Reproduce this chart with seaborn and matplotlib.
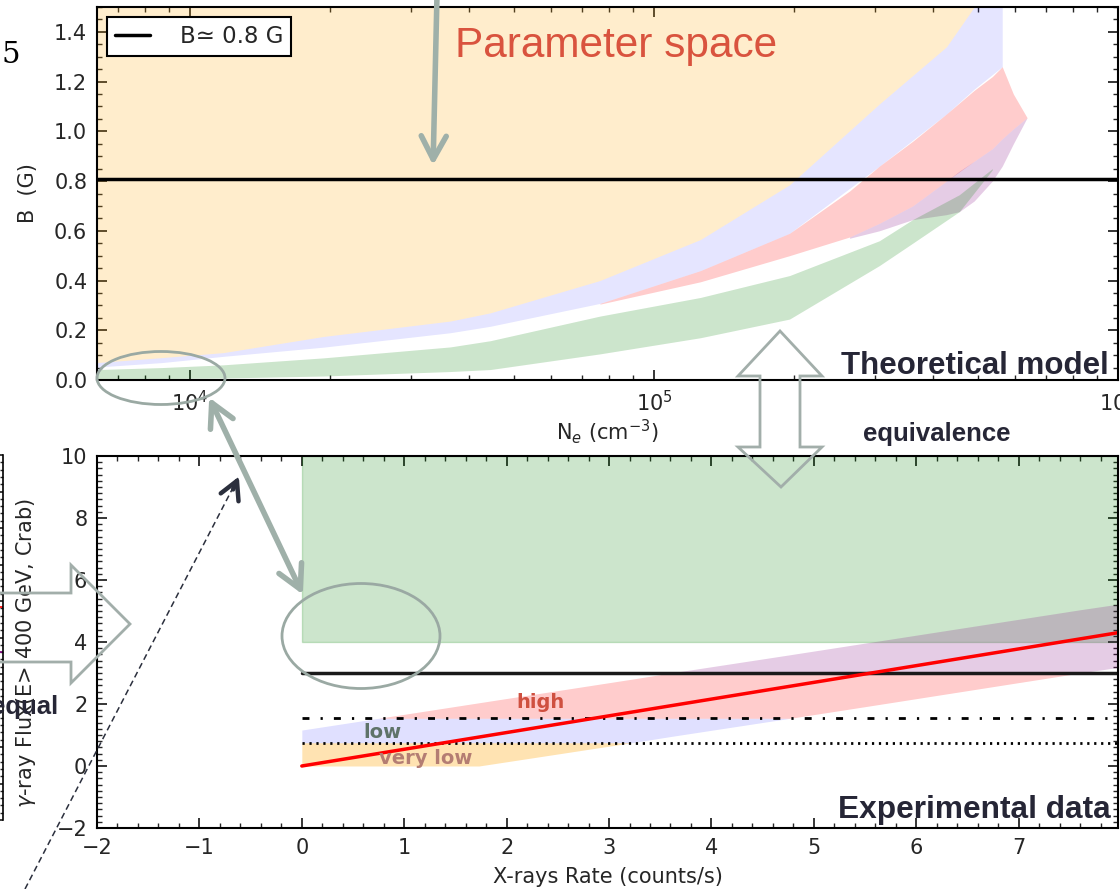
import numpy as np
import matplotlib
matplotlib.use("Agg")
import matplotlib.pyplot as plt
import seaborn as sns
from matplotlib.patches import Ellipse, Polygon, FancyArrowPatch, ArrowStyle
from matplotlib.lines import Line2D
from matplotlib.ticker import MultipleLocator, NullFormatter, LogLocator

# ---------------- data: top panel (theoretical model) ----------------
ne_vlow = [6.3e3, 8.7e3, 1.18e4, 1.94e4, 3.64e4, 4.44e4, 7.65e4, 1.26e5, 1.96e5, 3.06e5, 4.27e5, 4.90e5]
b_vlow_lo = [0.070, 0.090, 0.110, 0.175, 0.237, 0.270, 0.400, 0.565, 0.785, 1.110, 1.340, 1.500]

ne_low = [6.3e3, 8.7e3, 1.18e4, 1.94e4, 3.64e4, 4.44e4, 7.65e4, 1.26e5, 1.96e5, 3.06e5, 4.27e5, 4.90e5, 5.63e5]
b_low_lo = [0.052, 0.070, 0.095, 0.132, 0.190, 0.216, 0.308, 0.440, 0.590, 0.860, 1.070, 1.170, 1.260]
b_low_hi = [0.070, 0.090, 0.110, 0.175, 0.237, 0.270, 0.400, 0.565, 0.785, 1.110, 1.340, 1.500, 1.700]

ne_high = [7.65e4, 1.26e5, 1.96e5, 2.64e5, 3.06e5, 3.61e5, 4.27e5, 4.90e5, 5.36e5, 5.63e5, 5.95e5, 6.37e5]
b_high_lo = [0.305, 0.395, 0.500, 0.575, 0.630, 0.700, 0.800, 0.880, 0.930, 0.970, 1.010, 1.055]
b_high_hi = [0.308, 0.440, 0.590, 0.760, 0.860, 0.960, 1.070, 1.165, 1.220, 1.260, 1.150, 1.055]

ne_vhigh = [2.64e5, 3.06e5, 3.61e5, 4.27e5, 4.55e5, 4.90e5, 5.36e5, 5.63e5, 5.95e5, 6.37e5]
b_vhigh_lo = [0.570, 0.600, 0.645, 0.665, 0.677, 0.720, 0.800, 0.860, 0.950, 1.055]
b_vhigh_hi = [0.575, 0.630, 0.700, 0.800, 0.840, 0.880, 0.930, 0.970, 1.010, 1.055]

ne_green = [6.3e3, 8.7e3, 1.18e4, 1.94e4, 3.64e4, 4.44e4, 7.65e4, 1.26e5, 1.96e5, 3.06e5, 3.61e5, 4.55e5, 5.36e5]
b_green_lo = [0.003, 0.006, 0.008, 0.016, 0.034, 0.042, 0.105, 0.170, 0.245, 0.460, 0.550, 0.677, 0.845]
b_green_hi = [0.042, 0.050, 0.061, 0.089, 0.133, 0.158, 0.257, 0.332, 0.420, 0.560, 0.645, 0.745, 0.850]

ne_span = [6.3e3, 1.0e6]
b_const = 0.81

# ---------------- data: bottom panel (experimental data) ----------------
band_x = [0.0, 0.75, 1.73, 3.22, 3.60, 4.77, 5.57, 7.60, 7.97]
band_lo = [-0.89, -0.51, 0.00, 0.75, 0.95, 1.54, 1.95, 3.00, 3.18]
band_hi = [1.16, 1.54, 2.04, 2.80, 3.00, 3.59, 4.00, 5.04, 5.22]
thr_vlow, thr_low, thr_high = 0.75, 1.54, 3.00
green_box_lo, green_box_hi = 4.0, 10.0
line_x = [0.0, 7.97]
red_fit_y = [0.0, 4.30]

# ---------------- style ----------------
sns.set_theme(style="ticks", rc={
    "xtick.direction": "in", "ytick.direction": "in",
    "xtick.top": True, "ytick.right": True,
    "axes.linewidth": 1.5, "axes.edgecolor": "black",
})
plt.rcParams["font.family"] = ["DejaVu Sans"]

W, H = 1120, 889
fig = plt.figure(figsize=(W / 100, H / 100), dpi=100)


def P(x, y):
    return (x / W, 1 - y / H)


ax1 = fig.add_axes([97 / W, 1 - 380 / H, (1118 - 97) / W, (380 - 7) / H])
ax2 = fig.add_axes([97 / W, 1 - 828 / H, (1118 - 97) / W, (828 - 456) / H])

# ---- top panel ----
ax1.set_xscale("log")
ax1.fill_between(ne_vlow, b_vlow_lo, 2.0, color="orange", alpha=0.2, lw=0)
ax1.fill_between(ne_low, b_low_lo, b_low_hi, color="blue", alpha=0.1, lw=0)
ax1.fill_between(ne_high, b_high_lo, b_high_hi, color="red", alpha=0.2, lw=0)
ax1.fill_between(ne_vhigh, b_vhigh_lo, b_vhigh_hi, color="purple", alpha=0.2, lw=0)
ax1.fill_between(ne_green, b_green_lo, b_green_hi, color="green", alpha=0.2, lw=0)
sns.lineplot(x=ne_span, y=[b_const, b_const], color="black", lw=2.5,
             label="B\u2243 0.8 G", ax=ax1)
ax1.set_xlim(10 ** 3.8, 1e6)
ax1.set_ylim(0, 1.5)
ax1.xaxis.set_major_locator(LogLocator(base=10))
ax1.xaxis.set_minor_locator(LogLocator(base=10, subs=np.arange(2, 10)))
ax1.xaxis.set_minor_formatter(NullFormatter())
ax1.yaxis.set_major_locator(MultipleLocator(0.2))
ax1.yaxis.set_minor_locator(MultipleLocator(0.05))
ax1.set_xlabel(r"N$_e$ (cm$^{-3}$)", fontsize=15)
ax1.set_ylabel("B  (G)", fontsize=15)
ax1.xaxis.set_label_coords(0.5, -0.10)
ax1.yaxis.set_label_coords(-0.058, 0.5)
leg = ax1.legend(loc="upper left", fontsize=16.5, frameon=True, fancybox=False,
                 edgecolor="black", framealpha=1, handlelength=1.5,
                 handletextpad=1.3, borderpad=0.35, borderaxespad=0.45)
leg.get_frame().set_linewidth(1.5)

# ---- bottom panel ----
lo = np.array(band_lo)
hi = np.array(band_hi)
levels = [(0.0, thr_vlow, "orange", 0.3), (thr_vlow, thr_low, "blue", 0.12),
          (thr_low, thr_high, "red", 0.2), (thr_high, 20.0, "purple", 0.2)]
ax2.fill_between([0.0, 7.97], green_box_lo, green_box_hi, color="green", alpha=0.2)
for a, b, c, al in levels:
    l = np.clip(lo, a, b)
    h = np.clip(hi, a, b)
    ax2.fill_between(band_x, l, h, color=c, alpha=al, lw=0)
sns.lineplot(x=line_x, y=[thr_high, thr_high], color="#1a1a1a", lw=2.5, ax=ax2)
sns.lineplot(x=line_x, y=[thr_low, thr_low], color="black", lw=2,
             linestyle=(0, (2.5, 4.0, 0.8, 4.0)), ax=ax2)
sns.lineplot(x=line_x, y=[thr_vlow, thr_vlow], color="black", lw=2,
             linestyle=(0, (0.8, 1.7)), ax=ax2)
sns.lineplot(x=line_x, y=red_fit_y, color="red", lw=2.5, ax=ax2)
ax2.set_xlim(-2, 7.97)
ax2.set_ylim(-2, 10)
ax2.xaxis.set_major_locator(MultipleLocator(1))
ax2.xaxis.set_minor_locator(MultipleLocator(0.2))
ax2.yaxis.set_major_locator(MultipleLocator(2))
ax2.yaxis.set_minor_locator(MultipleLocator(0.2))
ax2.set_xlabel("X-rays Rate (counts/s)", fontsize=15)
ax2.set_ylabel(r"$\gamma$-ray Flux(E> 400 GeV, Crab)", fontsize=15)
ax2.xaxis.set_label_coords(0.5, -0.105)
ax2.yaxis.set_label_coords(-0.058, 0.47)
ax2.text(2.1, 1.86, "high", color="#cf5040", fontsize=14, fontweight="bold")
ax2.text(0.6, 0.90, "low", color="#5f7369", fontsize=14, fontweight="bold")
ax2.text(0.75, 0.08, "very low", color="#b47d73", fontsize=14, fontweight="bold")

for ax in (ax1, ax2):
    ax.tick_params(which="major", length=7, width=1.3, labelsize=15, pad=7)
    ax.tick_params(which="minor", length=3.5, width=1.0)
    for s in ax.spines.values():
        s.set_linewidth(1.5)

# ---- partial neighbouring plot at left edge ----
axL = fig.add_axes([-20 / W, 1 - 820 / H, 23 / W, 365 / H])
axL.patch.set_alpha(0)
axL.set_xlim(0, 1)
axL.set_ylim(0, 10)
for k in ("left", "top", "bottom"):
    axL.spines[k].set_visible(False)
axL.spines["right"].set_linewidth(1.2)
axL.set_xticks([])
axL.yaxis.tick_right()
axL.yaxis.set_major_locator(MultipleLocator(1))
axL.yaxis.set_minor_locator(MultipleLocator(0.2))
axL.tick_params(axis="y", which="major", direction="in", length=5, labelright=False)
axL.tick_params(axis="y", which="minor", direction="in", length=2.5)
axL.plot([0.6, 1.0], [5.84, 5.84], color="red", lw=1.2)
axL.plot([0.6, 1.0], [4.6, 4.6], color="purple", lw=1.2)

# ---- slide annotations ----
gray = "#9fb0a9"
outline = "#a2aeaa"

fig.text(*P(455, 57), "Parameter space", color="#d9533e", fontsize=30.5,
         family="Liberation Sans", va="baseline", ha="left")
fig.text(*P(841, 374), "Theoretical model", color="#262636", fontsize=22.5,
         family="Liberation Sans", fontweight="bold", va="baseline", ha="left")
fig.text(*P(863, 441), "equivalence", color="#262636", fontsize=18.5,
         family="Liberation Sans", fontweight="bold", va="baseline", ha="left")
fig.text(*P(838, 818), "Experimental data", color="#262636", fontsize=22.8,
         family="Liberation Sans", fontweight="bold", va="baseline", ha="left")
fig.text(*P(58, 714), "equal", color="#262636", fontsize=18.5,
         family="Liberation Sans", fontweight="bold", va="baseline", ha="right")
fig.text(*P(2, 63), "5", color="black", fontsize=21, family="DejaVu Serif",
         va="baseline", ha="left")

head = ArrowStyle("->", head_length=1.4, head_width=0.75)
fig.add_artist(FancyArrowPatch(P(437, -5), P(433, 168), transform=fig.transFigure,
                               arrowstyle=head, mutation_scale=12, lw=4, color=gray))
fig.add_artist(FancyArrowPatch(P(208, 395), P(304, 597), transform=fig.transFigure,
                               arrowstyle=ArrowStyle("<->", head_length=1.4, head_width=0.75),
                               mutation_scale=12, lw=4, color=gray))
fig.add_artist(Line2D([25 / W, 238 / W], [1 - 889 / H, 1 - 478 / H],
                      transform=fig.transFigure, color="#2b2f3d", lw=1.1,
                      linestyle=(0, (4, 2.5))))
fig.add_artist(FancyArrowPatch(P(232, 492), P(240, 474), transform=fig.transFigure,
                               arrowstyle=ArrowStyle("->", head_length=1.3, head_width=0.7),
                               mutation_scale=10, lw=3.2, color="#2b2f3d"))

fig.add_artist(Ellipse(P(161, 378), 128 / W, 53 / H, transform=fig.transFigure,
                       fill=False, ec="#9aa9a3", lw=2))
fig.add_artist(Ellipse(P(361, 636), 158 / W, 105 / H, transform=fig.transFigure,
                       fill=False, ec="#9aa9a3", lw=2))

updown = [(780, 331), (822, 376), (800, 376), (800, 447), (822, 447), (781, 487),
          (738, 447), (760, 447), (760, 376), (738, 376)]
fig.add_artist(Polygon([P(x, y) for x, y in updown], closed=True,
                       transform=fig.transFigure, fc="none", ec=outline, lw=2))
right = [(-5, 593), (71, 593), (71, 565), (130, 624), (71, 683), (71, 662), (-5, 662)]
fig.add_artist(Polygon([P(x, y) for x, y in right], closed=True,
                       transform=fig.transFigure, fc="none", ec=outline, lw=2))

fig.savefig("out.png", dpi=100)
